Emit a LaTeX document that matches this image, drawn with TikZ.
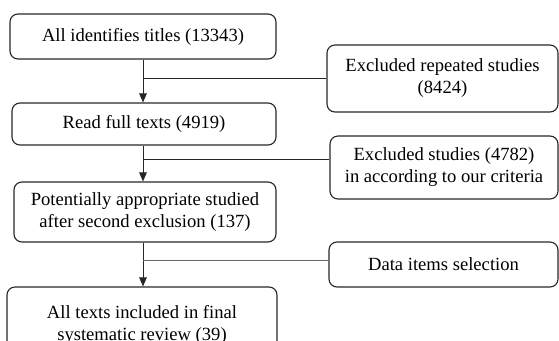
\documentclass[tikz,border=0pt]{standalone}
\usepackage{fontspec}
\setmainfont{Liberation Serif}
\usetikzlibrary{arrows.meta}
\tikzset{
    review/.style={
        x=1bp, y=-1bp,
        font=\fontsize{18.6bp}{22bp}\selectfont,
        >={Triangle[length=9bp,width=7.5bp]},
        stage/.style={draw=black!85, rectangle, rounded corners=8bp, line width=1.1bp, align=center, inner sep=0pt},
        excluded/.style={stage},
        arrow/.style={line width=1bp, draw=black!85, ->},
        branch/.style={line width=1bp, draw=black!85}
    }
}

\begin{document}
\begin{tikzpicture}[review]
        \useasboundingbox (0,0) rectangle (559,340);

        % Main stages
        \node[stage, minimum width=266bp, minimum height=45bp] (titles) at (143,36.5) {All identifies titles (13343)};
        \node[stage, minimum width=264bp, minimum height=42bp] (full) at (144,124) {Read full texts (4919)};
        \node[stage, minimum width=262bp, minimum height=60bp] (second) at (145,212) {Potentially appropriate studied\\after second exclusion (137)};
        \node[stage, minimum width=270bp, minimum height=76bp] (final) at (142,325) {All texts included in final\\systematic review (39)};

        % Side boxes
        \node[excluded, minimum width=231bp, minimum height=67bp] (repeated) at (442.5,78.5) {Excluded repeated studies\\(8424)};
        \node[excluded, minimum width=228bp, minimum height=63bp] (criteria) at (444,167.5) {Excluded studies (4782)\\in according to our criteria};
        \node[excluded, minimum width=229bp, minimum height=45bp] (items) at (443.5,264.5) {Data items selection};

        % Flow arrows
        \draw[arrow] (titles.south) -- (titles.south |- full.north);
        \draw[arrow] (titles.south |- full.south) -- (titles.south |- second.north);
        \draw[arrow] (titles.south |- second.south) -- (titles.south |- final.north);

        % Branches to the side boxes
        \coordinate (m1) at (143,78);
        \coordinate (m2) at (143,159);
        \coordinate (m3) at (143,260);
        \draw[branch] (m1) -- (m1 -| repeated.west);
        \draw[branch] (m2) -- (m2 -| criteria.west);
        \draw[branch, draw=black!60] (m3) -- (m3 -| items.west);

    \end{tikzpicture}
\end{document}
